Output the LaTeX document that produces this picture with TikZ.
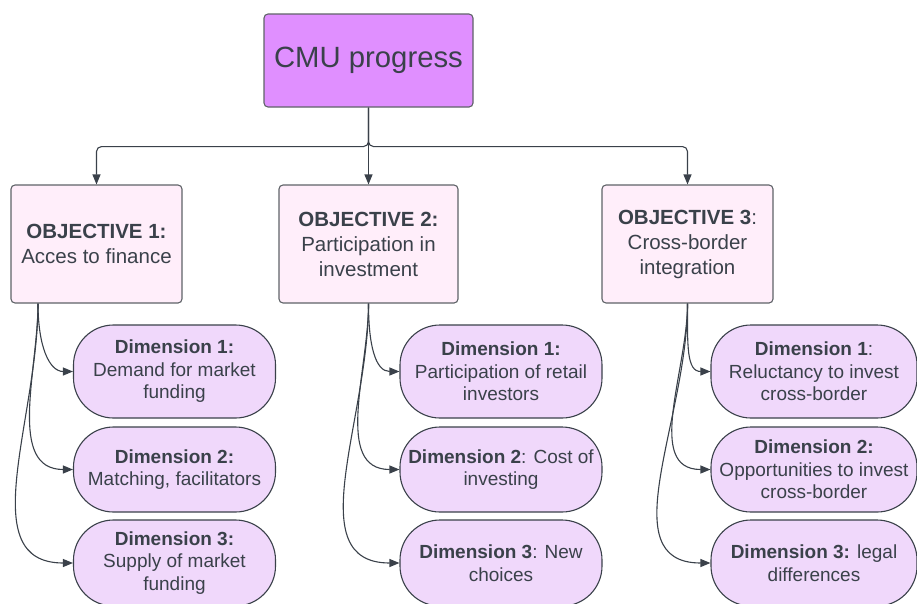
\documentclass[tikz,border=0pt]{standalone}
\usepackage{fontspec}
\setmainfont{Liberation Sans}
\usetikzlibrary{arrows.meta}

\definecolor{ink}{HTML}{3A414A}
\definecolor{edge}{HTML}{5F6368}
\definecolor{rootfill}{HTML}{E08FFF}
\definecolor{objfill}{HTML}{FFEEFA}
\definecolor{dimfill}{HTML}{F0D8FB}

\tikzset{
  rootbox/.style={draw=edge, line width=1.1pt, fill=rootfill, rounded corners=4pt,
    minimum width=209pt, minimum height=93pt, inner sep=0pt, text=ink,
    font=\fontsize{29.3}{35}\selectfont},
  objbox/.style={draw=edge, line width=1.1pt, fill=objfill, rounded corners=4pt,
    minimum height=118pt, inner sep=0pt, align=center, text=ink,
    font=\fontsize{20.5}{25}\selectfont},
  dimbox/.style={draw=ink, line width=1.1pt, fill=dimfill, rounded corners=40pt,
    minimum width=202pt, inner sep=0pt, align=center, text=ink,
    font=\fontsize{19}{22.5}\selectfont},
  link/.style={draw=ink, line width=1.1pt, -{Triangle[length=10pt,width=8pt]}},
}

\begin{document}
\begin{tikzpicture}[x=1pt, y=-1pt]
  \useasboundingbox (0,0) rectangle (917,603);
  \clip (0,0) rectangle (917,603);

  % root
  \node[rootbox] (cmu) at (368.5,60.5) {CMU progress};

  % objectives
  \node[objbox, minimum width=171pt] (o1) at (96.5,244)
    {\textbf{OBJECTIVE 1:}\\Acces to finance};
  \node[objbox, minimum width=179pt] (o2) at (368.5,244)
    {\textbf{OBJECTIVE 2:}\\Participation in\\investment};
  \node[objbox, minimum width=171pt] (o3) at (687.5,244)
    {\textbf{OBJECTIVE 3}:\\Cross-border\\integration};

  % dimensions, column 1
  \node[dimbox, minimum height=93pt] (d11) at (174.5,371.5)
    {\textbf{Dimension 1:}\\Demand for market\\funding};
  \node[dimbox, minimum height=85pt] (d12) at (174.5,469.5)
    {\textbf{Dimension 2:}\\Matching, facilitators};
  \node[dimbox, minimum height=86pt] (d13) at (174.5,563)
    {\textbf{Dimension 3:}\\Supply of market\\funding};

  % dimensions, column 2
  \node[dimbox, minimum height=93pt] (d21) at (501,371.5)
    {\textbf{Dimension 1:}\\Participation of retail\\investors};
  \node[dimbox, minimum height=85pt] (d22) at (501,469.5)
    {\textbf{Dimension 2}: Cost of\\investing};
  \node[dimbox, minimum height=86pt] (d23) at (501,563)
    {\textbf{Dimension 3}: New\\choices};

  % dimensions, column 3 (run off the right edge)
  \node[dimbox, minimum width=206pt, minimum height=93pt] (d31) at (814,371.5)
    {\textbf{Dimension 1}:\\Reluctancy to invest\\cross-border};
  \node[dimbox, minimum width=206pt, minimum height=85pt] (d32) at (814,469.5)
    {\textbf{Dimension 2:}\\Opportunities to invest\\cross-border};
  \node[dimbox, minimum width=206pt, minimum height=86pt] (d33) at (814,563)
    {\textbf{Dimension 3:} legal\\differences};

  % root to objectives
  \draw[link, rounded corners=5pt] (cmu.south) -- ++(0,39) -| (o1.north);
  \draw[link, rounded corners=5pt] (cmu.south) -- ++(0,39) -| (o3.north);
  \draw[link] (cmu.south) -- (o2.north);

  % objectives to dimensions
  \coordinate (s1) at ([xshift=-58.5pt]o1.south);
  \coordinate (s2) at (o2.south);
  \coordinate (s3) at (o3.south);
  \foreach \c in {1,2,3}{
    \draw[link] (s\c) .. controls +(0,42) and +(-24,0) .. (d\c1.west);
    \draw[link] (s\c) .. controls +(0,67) and +(-66,0) .. (d\c2.west);
    \draw[link] (s\c) .. controls +(0,117) and +(-100,0) .. (d\c3.west);
  }
\end{tikzpicture}
\end{document}
